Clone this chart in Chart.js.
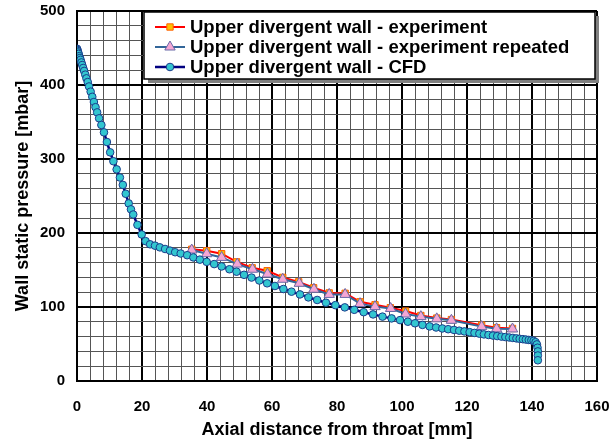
<!DOCTYPE html>
<html>
<head>
<meta charset="utf-8">
<script src="https://cdn.jsdelivr.net/npm/chart.js@4/dist/chart.umd.min.js"></script>
<style>
  html, body { margin: 0; padding: 0; background: #fff; }
  #wrap { width: 612px; height: 443px; position: relative; }
</style>
</head>
<body>
<div id="wrap"><canvas id="pressureChart" width="612" height="443"></canvas></div>
<script>
// axial positions [mm] and wall pressures [mbar]
const expX = [35.3, 39.9, 44.5, 49.1, 53.9, 58.5, 63.3, 68.2, 72.8, 77.6, 82.5, 87.1, 91.7, 96.4, 101.1, 105.8, 110.7, 115.2, 124.5, 129.1, 134.0];
const expP = [178, 176, 172, 161, 153, 149, 140, 134, 126, 119, 118.5, 107, 103, 99, 94.5, 88.5, 85, 83, 75.5, 72, 71];

const repX = [35.3, 39.9, 44.5, 49.3, 54.0, 58.6, 63.3, 68.4, 72.9, 77.6, 82.5, 87.1, 91.7, 96.5, 101.1, 105.8, 110.7, 115.2, 124.5, 129.1, 134.0];
const repP = [177, 172, 167, 158, 151, 144.5, 137.5, 132, 124, 117, 117, 104.5, 100.5, 98, 90.5, 87, 84, 82, 73.5, 70.5, 70.3];

const cfdX = [0, 0.1, 0.2, 0.35, 0.5, 0.7, 0.9, 1.1, 1.35, 1.6, 1.9, 2.2, 2.55, 2.9, 3.3, 3.7, 4.2, 4.7, 5.2, 5.7,
  6.2, 6.8, 7.5, 8.3, 9.2, 10.2, 11.2, 12.2, 13.2, 14.1, 15, 15.9, 16.6, 17.3, 18.6, 19.9, 21.1, 22.5, 24, 25.5,
  27.1, 28.6, 30.2, 31.9, 33.9, 35.8, 37.8, 39.9, 42.2, 44.5, 46.9, 49.1, 51.4, 53.7, 56.1, 58.5, 60.9, 63.5, 66, 68.6,
  71.2, 73.9, 76.6, 79.5, 82.4, 85.3, 88.2, 91.1, 94, 96.8, 99.4, 101.8, 104, 106.3, 108.5, 110.5, 112.4, 114.2, 116, 117.6,
  119.2, 120.8, 122.3, 123.8, 125.2, 126.6, 128, 129.3, 130.6, 131.8, 133, 134.1, 135.2, 136.2, 137.2, 138.1, 139, 139.8, 140.5, 141.1,
  141.5, 141.7, 141.8, 141.8, 141.8];
const cfdP = [449, 447.5, 446, 444, 442, 439, 436.5, 434, 430.5, 427, 423, 419, 414, 409, 404, 398, 391, 384, 377, 370,
  363, 355, 346, 336, 323, 309, 297, 286, 275, 265, 253, 240, 232, 225, 211, 198, 189, 184.7, 182.9, 180.6,
  178.4, 176.2, 174, 172.3, 170, 167, 164, 161, 158, 154.8, 151, 147.7, 143.5, 139.8, 135.8, 132, 128.4, 124.3, 120.7, 117,
  113, 109.5, 105.8, 102.5, 99.5, 96.2, 93, 90, 87, 84.6, 82.3, 80.1, 78, 75.8, 73.8, 72.3, 71, 70, 69, 68,
  67, 66, 65, 64, 63, 62.2, 61.4, 60.7, 60, 59.4, 58.8, 58.2, 57.6, 57, 56.5, 56, 55.5, 55, 54.2, 52.5,
  49.5, 45, 40, 34.5, 28];

const seriesNames = [
  "Upper divergent wall - experiment",
  "Upper divergent wall - experiment repeated",
  "Upper divergent wall - CFD"
];

const xTicks = [0, 20, 40, 60, 80, 100, 120, 140, 160];
const yTicks = [0, 100, 200, 300, 400, 500];

const pts = (xs, ys) => xs.map((x, i) => ({ x: x, y: ys[i] }));

const FONT = "Arial, 'Liberation Sans', sans-serif";

// boxed legend with a drop shadow, drawn inside the plot area
const boxLegend = {
  id: 'boxLegend',
  afterDraw(chart) {
    const ctx = chart.ctx;
    const x0 = 144, y0 = 12, w = 451, h = 67;
    ctx.save();
    ctx.fillStyle = '#808080';
    ctx.fillRect(x0 + 4, y0 + 4, w, h);
    ctx.fillStyle = '#fff';
    ctx.fillRect(x0, y0, w, h);
    ctx.strokeStyle = '#000';
    ctx.lineWidth = 1.5;
    ctx.strokeRect(x0, y0, w, h);

    const rows = [27, 47, 67];
    chart.data.datasets.forEach((ds, i) => {
      const y = rows[i];
      ctx.strokeStyle = ds.borderColor;
      ctx.lineWidth = ds.borderWidth;
      ctx.beginPath();
      ctx.moveTo(155, y);
      ctx.lineTo(185, y);
      ctx.stroke();
      ctx.fillStyle = ds.pointBackgroundColor;
      ctx.strokeStyle = ds.pointBorderColor;
      ctx.lineWidth = ds.pointBorderWidth;
      Chart.helpers.drawPoint(ctx, {
        pointStyle: ds.pointStyle,
        radius: ds.pointRadius,
        borderWidth: ds.pointBorderWidth
      }, 170, y);
      ctx.fillStyle = '#000';
      ctx.font = 'bold 18.5px ' + FONT;
      ctx.textBaseline = 'middle';
      ctx.fillText(ds.label, 190, y + 1);
    });
    ctx.restore();
  }
};

new Chart(document.getElementById('pressureChart'), {
  type: 'line',
  data: {
    datasets: [
      {
        label: seriesNames[0],
        data: pts(expX, expP),
        borderColor: '#ff0000',
        borderWidth: 2,
        pointStyle: 'rect',
        pointRadius: 4.5,
        pointBackgroundColor: '#ffc000',
        pointBorderColor: '#ff6000',
        pointBorderWidth: 1,
        order: 3
      },
      {
        label: seriesNames[1],
        data: pts(repX, repP),
        borderColor: '#336699',
        borderWidth: 2,
        pointStyle: 'triangle',
        pointRadius: 6,
        pointBackgroundColor: '#f4a6d4',
        pointBorderColor: '#6a6aa8',
        pointBorderWidth: 1,
        order: 2
      },
      {
        label: seriesNames[2],
        data: pts(cfdX, cfdP),
        borderColor: '#000080',
        borderWidth: 2.5,
        pointStyle: 'circle',
        pointRadius: 3.8,
        pointBackgroundColor: '#33c6d0',
        pointBorderColor: '#1a3c8c',
        pointBorderWidth: 1,
        order: 1
      }
    ]
  },
  options: {
    responsive: false,
    animation: false,
    layout: { padding: { top: 11, right: 15, bottom: 0, left: 0 } },
    elements: { line: { tension: 0 } },
    plugins: {
      legend: { display: false },
      tooltip: { enabled: false }
    },
    scales: {
      x: {
        type: 'linear',
        min: 0,
        max: 160,
        afterFit(s) {
          s.height = 62;
          s.paddingLeft = 0;
          s.paddingRight = 0;
        },
        ticks: {
          stepSize: 4,
          autoSkip: false,
          maxRotation: 0,
          padding: 17,
          color: '#000',
          font: { family: FONT, size: 15, weight: 'bold' },
          callback: (v) => (xTicks.includes(v) ? String(v) : '')
        },
        grid: {
          drawTicks: false,
          color: (c) => (c.tick && c.tick.value % 20 === 0 ? '#000' : '#555'),
          lineWidth: (c) => (c.tick && c.tick.value % 20 === 0 ? 2 : 1)
        },
        border: { color: '#000', width: 2 },
        title: {
          display: true,
          text: 'Axial distance from throat [mm]',
          color: '#000',
          font: { family: FONT, size: 18, weight: 'bold' },
          padding: { top: 0, bottom: 2 }
        }
      },
      y: {
        type: 'linear',
        min: 0,
        max: 500,
        afterFit(s) {
          s.width = 77;
          s.paddingTop = 0;
          s.paddingBottom = 0;
        },
        ticks: {
          stepSize: 20,
          autoSkip: false,
          padding: 12,
          color: '#000',
          font: { family: FONT, size: 15, weight: 'bold' },
          callback: (v) => (yTicks.includes(v) ? String(v) : '')
        },
        grid: {
          drawTicks: false,
          color: (c) => (c.tick && c.tick.value % 100 === 0 ? '#000' : '#555'),
          lineWidth: (c) => (c.tick && c.tick.value % 100 === 0 ? 2 : 1)
        },
        border: { color: '#000', width: 2 },
        title: {
          display: true,
          text: 'Wall static pressure [mbar]',
          color: '#000',
          font: { family: FONT, size: 18, weight: 'bold' },
          padding: { top: 12, bottom: 0 }
        }
      }
    }
  },
  plugins: [boxLegend]
});
</script>
</body>
</html>
